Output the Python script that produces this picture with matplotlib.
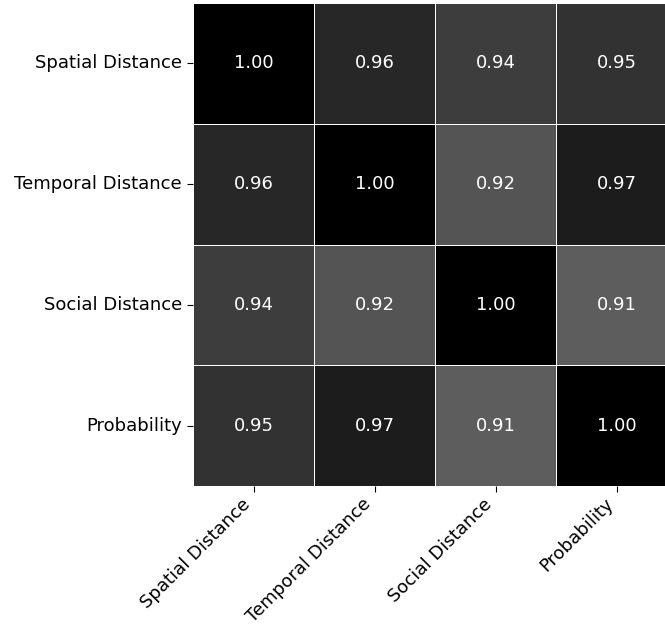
import numpy as np
import matplotlib
matplotlib.use("Agg")
import matplotlib.pyplot as plt
import seaborn as sns

plt.rcParams["font.family"] = ["DejaVu Sans"]

# Labels and correlation values
labels = ["Spatial Distance", "Temporal Distance", "Social Distance", "Probability"]
row_spatial = [1.00, 0.96, 0.94, 0.95]
row_temporal = [0.96, 1.00, 0.92, 0.97]
row_social = [0.94, 0.92, 1.00, 0.91]
row_prob = [0.95, 0.97, 0.91, 1.00]

corr = np.array([row_spatial, row_temporal, row_social, row_prob])

fig = plt.figure(figsize=(6.65, 6.25), dpi=100)
ax = fig.add_axes([193 / 665, (625 - 486) / 625, 484 / 665, 483 / 625])

sns.heatmap(corr, ax=ax, cmap="Greys", vmin=0.69, vmax=1.0,
            annot=True, fmt=".2f", annot_kws={"size": 13, "color": "white"},
            linewidths=0.5, linecolor="white", cbar=False,
            xticklabels=labels, yticklabels=labels)

ax.tick_params(axis="both", labelsize=13, length=4.5)
ax.tick_params(axis="x", pad=2)
plt.setp(ax.get_xticklabels(), rotation=45, ha="right")
plt.setp(ax.get_yticklabels(), rotation=0)

fig.savefig("out.png", dpi=100)
